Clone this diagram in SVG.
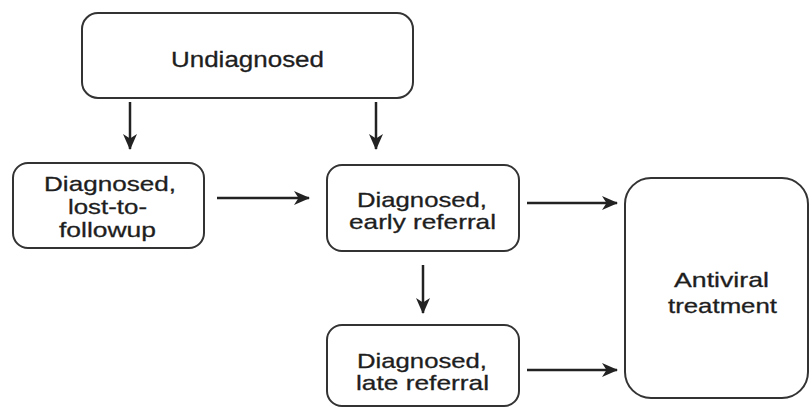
<svg xmlns="http://www.w3.org/2000/svg" width="810" height="409" viewBox="0 0 810 409">
<style>
.box{fill:#fff;stroke:#333;stroke-width:2}
.t{font-family:"Liberation Sans",Arial,sans-serif;font-size:21px;fill:#1e1e1e;stroke:#1e1e1e;stroke-width:0.3;text-anchor:middle}
.big{font-size:22px}
.con{stroke:#222;stroke-width:2.5;fill:none}
</style>
<defs>
<marker id="ah" markerUnits="userSpaceOnUse" markerWidth="18" markerHeight="16" refX="15" refY="8" orient="auto">
<path d="M0,1 L16,8 L0,15 L4.5,8 z" fill="#222"/>
</marker>
</defs>
<rect width="810" height="409" fill="#fff"/>
<g id="connectors">
<line class="con" x1="130" y1="102" x2="130" y2="149" marker-end="url(#ah)"/>
<line class="con" x1="376" y1="102" x2="376" y2="149" marker-end="url(#ah)"/>
<line class="con" x1="217" y1="198" x2="309" y2="198" marker-end="url(#ah)"/>
<line class="con" x1="527" y1="203" x2="617" y2="203" marker-end="url(#ah)"/>
<line class="con" x1="423" y1="265" x2="423" y2="313" marker-end="url(#ah)"/>
<line class="con" x1="527" y1="370" x2="617" y2="370" marker-end="url(#ah)"/>
</g>
<g id="undiagnosed">
<rect class="box" x="82" y="13" width="331" height="85" rx="16"/>
<text class="t big" x="247.5" y="67" textLength="153" lengthAdjust="spacingAndGlyphs">Undiagnosed</text>
</g>
<g id="lost">
<rect class="box" x="13" y="163" width="191" height="85" rx="15"/>
<text class="t" x="110" y="191" textLength="132" lengthAdjust="spacingAndGlyphs">Diagnosed,</text>
<text class="t" x="107.5" y="214" textLength="79" lengthAdjust="spacingAndGlyphs">lost-to-</text>
<text class="t" x="107.5" y="237" textLength="97" lengthAdjust="spacingAndGlyphs">followup</text>
</g>
<g id="early">
<rect class="box" x="327" y="165" width="192" height="86" rx="15"/>
<text class="t" x="422" y="207" textLength="130" lengthAdjust="spacingAndGlyphs">Diagnosed,</text>
<text class="t" x="422.5" y="229" textLength="147" lengthAdjust="spacingAndGlyphs">early referral</text>
</g>
<g id="late">
<rect class="box" x="327" y="325" width="192" height="81" rx="15"/>
<text class="t" x="422" y="368" textLength="130" lengthAdjust="spacingAndGlyphs">Diagnosed,</text>
<text class="t" x="422.5" y="390" textLength="133" lengthAdjust="spacingAndGlyphs">late referral</text>
</g>
<g id="antiviral">
<rect class="box" x="625" y="178" width="183" height="220" rx="26"/>
<text class="t" x="721.5" y="287" textLength="95" lengthAdjust="spacingAndGlyphs">Antiviral</text>
<text class="t" x="722.5" y="313" textLength="109" lengthAdjust="spacingAndGlyphs">treatment</text>
</g>
</svg>
